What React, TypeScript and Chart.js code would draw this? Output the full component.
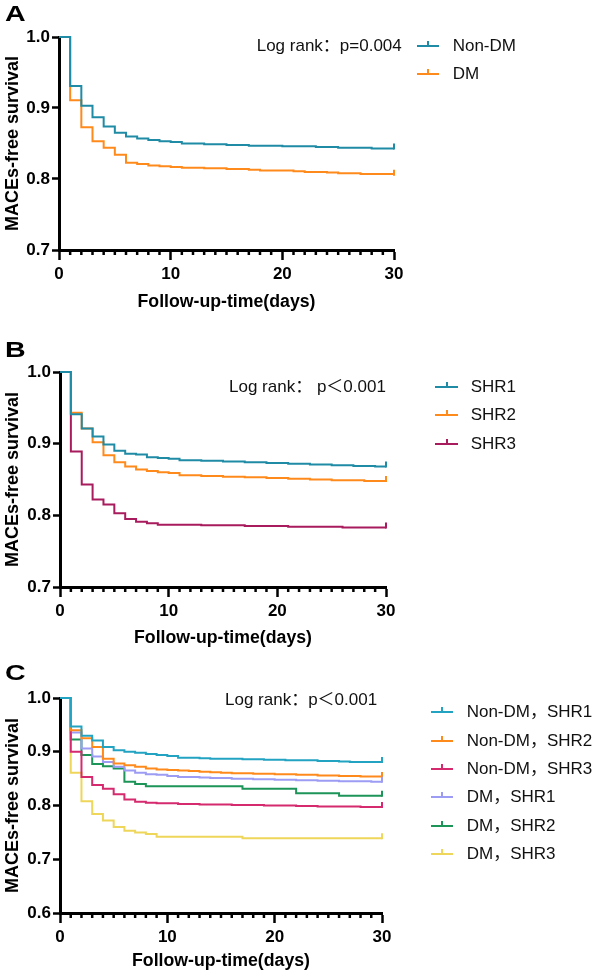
import React, { useEffect, useRef } from "react";
import { Chart, registerables } from "chart.js";

Chart.register(...registerables);

// ---------- data ----------
const DAYS = [0, 1, 2, 3, 4, 5, 6, 7, 8, 9, 10, 11, 12, 13, 14, 15, 16, 17, 18, 19, 20, 21, 22, 23, 24, 25, 26, 27, 28, 29, 30];
const X_TICKS = [0, 10, 20, 30];

// Panel A
const A_LABELS = ["Non-DM", "DM"];
const A_NON_DM = [1.0, 0.931, 0.903, 0.887, 0.874, 0.865, 0.86, 0.857, 0.855, 0.853, 0.852, 0.85, 0.85, 0.849, 0.849, 0.848, 0.848, 0.847, 0.847, 0.847, 0.846, 0.846, 0.846, 0.845, 0.845, 0.844, 0.844, 0.844, 0.843, 0.843, 0.843];
const A_DM = [1.0, 0.911, 0.873, 0.853, 0.844, 0.834, 0.823, 0.821, 0.819, 0.818, 0.817, 0.816, 0.816, 0.815, 0.815, 0.814, 0.814, 0.813, 0.812, 0.812, 0.812, 0.811, 0.81, 0.81, 0.809, 0.808, 0.808, 0.807, 0.807, 0.807, 0.806];
const A_COLORS = ["#1f8ba5", "#ff8a1c"];
const A_PTEXT = "Log rank：p=0.004";

// Panel B
const B_LABELS = ["SHR1", "SHR2", "SHR3"];
const B_SHR1 = [1.0, 0.941, 0.921, 0.91, 0.899, 0.89, 0.886, 0.885, 0.881, 0.88, 0.879, 0.877, 0.877, 0.876, 0.876, 0.875, 0.875, 0.874, 0.874, 0.873, 0.873, 0.872, 0.872, 0.871, 0.871, 0.87, 0.87, 0.869, 0.869, 0.868, 0.868];
const B_SHR2 = [1.0, 0.943, 0.921, 0.902, 0.884, 0.874, 0.868, 0.864, 0.862, 0.86, 0.859, 0.856, 0.856, 0.855, 0.855, 0.854, 0.854, 0.853, 0.853, 0.852, 0.852, 0.851, 0.851, 0.85, 0.85, 0.849, 0.849, 0.849, 0.848, 0.848, 0.848];
const B_SHR3 = [1.0, 0.889, 0.843, 0.822, 0.815, 0.803, 0.795, 0.791, 0.789, 0.787, 0.787, 0.787, 0.787, 0.786, 0.786, 0.786, 0.786, 0.785, 0.785, 0.785, 0.785, 0.784, 0.784, 0.784, 0.784, 0.784, 0.783, 0.783, 0.783, 0.783, 0.783];
const B_COLORS = ["#1f8ba5", "#ff8a1c", "#a81b5c"];
const B_PTEXT = "Log rank： p＜0.001";

// Panel C
const C_LABELS = ["Non-DM，SHR1", "Non-DM，SHR2", "Non-DM，SHR3", "DM，SHR1", "DM，SHR2", "DM，SHR3"];
const C_NDM_SHR1 = [1.0, 0.947, 0.93, 0.921, 0.909, 0.903, 0.9, 0.898, 0.896, 0.894, 0.892, 0.889, 0.889, 0.888, 0.887, 0.887, 0.887, 0.886, 0.886, 0.885, 0.885, 0.884, 0.884, 0.884, 0.883, 0.883, 0.882, 0.881, 0.881, 0.881, 0.881];
const C_NDM_SHR2 = [1.0, 0.94, 0.925, 0.909, 0.887, 0.878, 0.875, 0.872, 0.869, 0.867, 0.866, 0.865, 0.864, 0.863, 0.862, 0.861, 0.86, 0.86, 0.859, 0.859, 0.858, 0.858, 0.857, 0.857, 0.856, 0.856, 0.855, 0.855, 0.854, 0.854, 0.853];
const C_NDM_SHR3 = [1.0, 0.9, 0.853, 0.838, 0.831, 0.821, 0.811, 0.807, 0.805, 0.804, 0.804, 0.803, 0.803, 0.802, 0.802, 0.802, 0.801, 0.801, 0.801, 0.8, 0.8, 0.8, 0.799, 0.799, 0.798, 0.798, 0.798, 0.798, 0.797, 0.797, 0.797];
const C_DM_SHR1 = [1.0, 0.936, 0.906, 0.891, 0.881, 0.872, 0.865, 0.861, 0.858, 0.857, 0.855, 0.853, 0.853, 0.852, 0.851, 0.851, 0.85, 0.85, 0.849, 0.849, 0.848, 0.848, 0.847, 0.847, 0.846, 0.846, 0.845, 0.845, 0.845, 0.844, 0.844];
const C_DM_SHR2 = [1.0, 0.923, 0.894, 0.877, 0.873, 0.869, 0.844, 0.84, 0.836, 0.836, 0.836, 0.836, 0.836, 0.836, 0.836, 0.836, 0.836, 0.831, 0.831, 0.831, 0.831, 0.831, 0.823, 0.823, 0.823, 0.823, 0.818, 0.818, 0.818, 0.818, 0.818];
const C_DM_SHR3 = [1.0, 0.861, 0.808, 0.784, 0.772, 0.76, 0.753, 0.75, 0.747, 0.742, 0.742, 0.742, 0.742, 0.742, 0.742, 0.742, 0.742, 0.739, 0.739, 0.739, 0.739, 0.739, 0.739, 0.739, 0.739, 0.739, 0.739, 0.739, 0.739, 0.739, 0.739];
const C_COLORS = ["#22a3c2", "#ff8a1c", "#d52a6d", "#9d9cf5", "#1d9458", "#eed65a"];
const C_PTEXT = "Log rank：p＜0.001";

const X_TITLE = "Follow-up-time(days)";
const Y_TITLE = "MACEs-free survival";

// ---------- styling ----------
const FONT = "Arial, 'Liberation Sans', Helvetica, 'Noto Sans CJK SC', sans-serif";
const W = 597;

type Panel = {
  letter: string;
  top: number;
  height: number;
  area: { left: number; right: number; top: number; bottom: number };
  yMin: number;
  yMax: number;
  titleOffset: number;
  labels: string[];
  values: number[][];
  colors: string[];
  pText: string;
  pPos: { x: number; y: number };
  legend: { lineX: number; lineW: number; textX: number; rows: number[] };
  letterTop: number;
};

const PANELS: Panel[] = [
  {
    letter: "A",
    top: 0,
    height: 320,
    area: { left: 59, right: 394, top: 37, bottom: 250 },
    yMin: 0.7,
    yMax: 1.0,
    titleOffset: 51.7,
    labels: A_LABELS,
    values: [A_NON_DM, A_DM],
    colors: A_COLORS,
    pText: A_PTEXT,
    pPos: { x: 256.7, y: 45.5 },
    legend: { lineX: 417, lineW: 22, textX: 452.7, rows: [45.5, 74] },
    letterTop: 3,
  },
  {
    letter: "B",
    top: 320,
    height: 330,
    area: { left: 60, right: 386, top: 52, bottom: 267 },
    yMin: 0.7,
    yMax: 1.0,
    titleOffset: 51.3,
    labels: B_LABELS,
    values: [B_SHR1, B_SHR2, B_SHR3],
    colors: B_COLORS,
    pText: B_PTEXT,
    pPos: { x: 229, y: 387 },
    legend: { lineX: 435, lineW: 23, textX: 470.7, rows: [386.7, 415, 444] },
    letterTop: 339,
  },
  {
    letter: "C",
    top: 650,
    height: 323,
    area: { left: 60, right: 382, top: 48, bottom: 263 },
    yMin: 0.6,
    yMax: 1.0,
    titleOffset: 48.4,
    labels: C_LABELS,
    values: [C_NDM_SHR1, C_NDM_SHR2, C_NDM_SHR3, C_DM_SHR1, C_DM_SHR2, C_DM_SHR3],
    colors: C_COLORS,
    pText: C_PTEXT,
    pPos: { x: 225, y: 700 },
    legend: { lineX: 431, lineW: 22, textX: 466.7, rows: [712.3, 740.7, 769, 797.3, 825.7, 854] },
    letterTop: 662,
  },
];

// ---------- plugins ----------
const minorTicks = {
  id: "minorTicks",
  afterDraw(chart: any) {
    const { ctx, chartArea, scales } = chart;
    ctx.save();
    ctx.strokeStyle = "#000";
    ctx.lineWidth = 2.5;
    DAYS.forEach((d) => {
      if (X_TICKS.includes(d)) return;
      const px = scales.x.getPixelForValue(d);
      ctx.beginPath();
      ctx.moveTo(px, chartArea.bottom);
      ctx.lineTo(px, chartArea.bottom + 5);
      ctx.stroke();
    });
    ctx.restore();
  },
};

const censorMarks = {
  id: "censorMarks",
  afterDatasetsDraw(chart: any) {
    const { ctx } = chart;
    ctx.save();
    chart.data.datasets.forEach((ds: any, i: number) => {
      const pts = chart.getDatasetMeta(i).data;
      const last = pts[pts.length - 1];
      if (!last) return;
      ctx.strokeStyle = ds.borderColor;
      ctx.lineWidth = 2;
      ctx.beginPath();
      ctx.moveTo(last.x, last.y + 1);
      ctx.lineTo(last.x, last.y - 5);
      ctx.stroke();
    });
    ctx.restore();
  },
};

const xTitle = {
  id: "xTitle",
  afterDraw(chart: any, _args: any, opts: any) {
    const { ctx, chartArea } = chart;
    ctx.save();
    ctx.fillStyle = "#000";
    ctx.font = `bold 18px ${FONT}`;
    ctx.textAlign = "center";
    ctx.textBaseline = "middle";
    const cx = (chartArea.left + chartArea.right) / 2;
    ctx.fillText(opts.text, cx, chartArea.bottom + opts.offset, opts.maxWidth);
    ctx.restore();
  },
};

function KMChart({ p }: { p: Panel }) {
  const ref = useRef<HTMLCanvasElement>(null);
  useEffect(() => {
    if (!ref.current) return;
    const chart = new Chart(ref.current, {
      type: "line",
      data: {
        datasets: p.values.map((vals, i) => ({
          label: p.labels[i],
          data: DAYS.map((d, j) => ({ x: d, y: vals[j] })),
          borderColor: p.colors[i],
          backgroundColor: p.colors[i],
          borderWidth: 2,
          stepped: "before" as const,
          pointRadius: 0,
          fill: false,
          clip: false as any,
        })),
      },
      options: {
        animation: false,
        responsive: false,
        maintainAspectRatio: false,
        devicePixelRatio: 1,
        layout: { padding: { left: 0, top: p.area.top, right: W - p.area.right, bottom: 0 } },
        plugins: {
          legend: { display: false },
          tooltip: { enabled: false },
          xTitle: { text: X_TITLE, offset: p.titleOffset, maxWidth: 178 },
        } as any,
        scales: {
          x: {
            type: "linear",
            min: 0,
            max: 30,
            afterFit: (s: any) => {
              s.height = p.height - p.area.bottom;
            },
            border: { display: true, color: "#000", width: 3 },
            grid: { display: true, drawOnChartArea: false, drawTicks: true, tickLength: 10, tickWidth: 2.5, tickColor: "#000" },
            ticks: {
              stepSize: 10,
              autoSkip: false,
              maxRotation: 0,
              padding: 4,
              color: "#000",
              font: { family: FONT, size: 17, weight: "bold" },
              callback: (v: any) => (X_TICKS.includes(Number(v)) ? String(v) : ""),
            },
            title: { display: false },
          },
          y: {
            type: "linear",
            min: p.yMin,
            max: p.yMax,
            afterFit: (s: any) => {
              s.width = p.area.left;
            },
            border: { display: true, color: "#000", width: 3 },
            grid: { display: true, drawOnChartArea: false, drawTicks: true, tickLength: 7, tickWidth: 2.5, tickColor: "#000" },
            ticks: {
              stepSize: 0.1,
              padding: 2,
              color: "#000",
              font: { family: FONT, size: 17, weight: "bold" },
              callback: (v: any) => Number(v).toFixed(1),
            },
            title: {
              display: true,
              text: Y_TITLE,
              color: "#000",
              font: { family: FONT, size: 18, weight: "bold" },
              padding: { top: 2, bottom: 0 },
            },
          },
        },
      } as any,
      plugins: [minorTicks, censorMarks, xTitle],
    });
    return () => chart.destroy();
  }, [p]);
  return (
    <canvas
      ref={ref}
      width={W}
      height={p.height}
      style={{ position: "absolute", left: 0, top: p.top, width: W, height: p.height }}
    />
  );
}

function Overlay({ p }: { p: Panel }) {
  const textStyle: React.CSSProperties = {
    position: "absolute",
    fontFamily: FONT,
    fontSize: 17,
    lineHeight: "22px",
    color: "#111",
    whiteSpace: "nowrap",
  };
  return (
    <>
      <div
        style={{
          position: "absolute",
          left: 5,
          top: p.letterTop,
          fontFamily: FONT,
          fontWeight: "bold",
          fontSize: 22,
          lineHeight: "22px",
          color: "#000",
          transform: "scaleX(1.3)",
          transformOrigin: "left top",
        }}
      >
        {p.letter}
      </div>
      <div style={{ ...textStyle, left: p.pPos.x, top: p.pPos.y - 11 }}>{p.pText}</div>
      {p.labels.map((lab, i) => {
        const y = p.legend.rows[i];
        return (
          <React.Fragment key={lab}>
            <div
              style={{
                position: "absolute",
                left: p.legend.lineX,
                top: y - 1,
                width: p.legend.lineW,
                height: 2,
                background: p.colors[i],
              }}
            />
            <div
              style={{
                position: "absolute",
                left: p.legend.lineX + p.legend.lineW / 2 - 1,
                top: y - 5,
                width: 2,
                height: 5,
                background: p.colors[i],
              }}
            />
            <div style={{ ...textStyle, left: p.legend.textX, top: y - 11 }}>{lab}</div>
          </React.Fragment>
        );
      })}
    </>
  );
}

export default function App() {
  return (
    <div
      style={{
        position: "absolute",
        left: 0,
        top: 0,
        width: W,
        height: 973,
        background: "#fff",
        overflow: "hidden",
      }}
    >
      {PANELS.map((p) => (
        <KMChart key={p.letter} p={p} />
      ))}
      {PANELS.map((p) => (
        <Overlay key={"o" + p.letter} p={p} />
      ))}
    </div>
  );
}
